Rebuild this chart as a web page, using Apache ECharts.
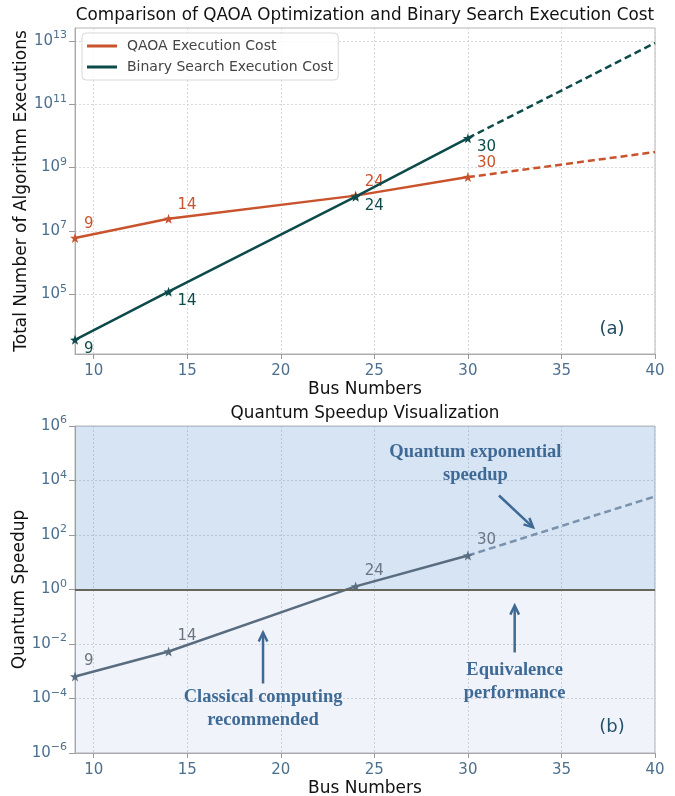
<!DOCTYPE html>
<html>
<head>
<meta charset="utf-8">
<title>QAOA vs Binary Search</title>
<script src="https://cdn.jsdelivr.net/npm/echarts@6/dist/echarts.min.js"></script>
<style>
  html, body { margin: 0; padding: 0; background: #fff; }
  #main { width: 675px; height: 796px; }
</style>
</head>
<body>
<div id="main"></div>
<script>
// measured points (bus count -> executions)
var busNumbers = [9, 14, 24, 30];
var qaoaCost = [6.0e6, 2.4e7, 1.3e8, 5.0e8];
var binaryCost = [3.6e3, 1.2e5, 1.2e8, 8.5e9];
// extrapolated part (dashed)
var projBus = [30, 40];
var qaoaProj = [5.0e8, 3.1e9];
var binaryProj = [8.5e9, 8.7e12];
// speedup = binary / qaoa
var speedup = [6.4e-4, 5.3e-3, 1.3, 17.6];
var speedupProj = [17.6, 2.6e3];

var xTicks = [10, 15, 20, 25, 30, 35, 40];
var topYTicks = [5, 7, 9, 11, 13];
var bottomYTicks = [-6, -4, -2, 0, 2, 4, 6];

var ORANGE = '#c9532d';
var TEAL = '#0d4a4a';
var GREYBLUE = '#5a6d80';
var NOTE = '#3f6a96';
var TICK = '#4d6f8e';

var STAR = 'path://M0,-10 L2.35,-3.24 L9.51,-3.09 L3.8,1.24 L5.88,8.09 L0,4 L-5.88,8.09 L-3.8,1.24 L-9.51,-3.09 L-2.35,-3.24 Z';

function pairs(xs, ys) {
    return xs.map(function (x, i) { return [x, Math.log10(ys[i])]; });
}

function xAxisFor(idx) {
    return {
        type: 'value', gridIndex: idx, min: 9, max: 40,
        name: 'Bus Numbers', nameLocation: 'middle', nameGap: 27,
        nameTextStyle: { fontSize: 17, color: '#111', fontFamily: 'DejaVu Sans' },
        axisLine: { onZero: false, lineStyle: { color: '#aaa' } },
        axisTick: { customValues: xTicks, length: 5, lineStyle: { color: '#999' } },
        axisLabel: { customValues: xTicks, margin: 10, color: TICK, fontSize: 15, fontFamily: 'DejaVu Sans' },
        splitLine: { show: true, lineStyle: { color: '#cfcfcf', type: [2, 2], width: 0.8 } }
    };
}
function yAxisFor(idx, name, min, max, ticks, gap) {
    return {
        type: 'value', gridIndex: idx, min: min, max: max,
        name: name, nameLocation: 'middle', nameGap: gap, nameMoveOverlap: false,
        nameTextStyle: { fontSize: 17, color: '#111', fontFamily: 'DejaVu Sans' },
        axisLine: { show: true, lineStyle: { color: '#aaa' } },
        axisTick: { show: true, customValues: ticks, length: 6, lineStyle: { color: '#999' } },
        axisLabel: {
            customValues: ticks, margin: 8, color: TICK, fontFamily: 'DejaVu Sans',
            formatter: function (v) {
                var e = String(Math.round(v)).replace('-', '\u2212');
                return '{b|10}{e|' + e + '}';
            },
            rich: {
                b: { fontSize: 15, color: TICK, fontFamily: 'DejaVu Sans' },
                e: { fontSize: 11, color: TICK, fontFamily: 'DejaVu Sans', padding: [0, 0, 11, 0] }
            }
        },
        splitLine: { show: true, lineStyle: { color: '#cfcfcf', type: [2, 2], width: 0.8 } }
    };
}
function pointLabel(color, dy) {
    return {
        show: true, position: 'right', distance: 4, offset: [0, dy],
        color: color, fontSize: 15, fontFamily: 'DejaVu Sans',
        formatter: function (p) { return p.data[0]; }
    };
}

var chart = echarts.init(document.getElementById('main'));

var option = {
    backgroundColor: '#fff',
    animation: false,
    legend: {
        data: ['QAOA Execution Cost', 'Binary Search Execution Cost'],
        orient: 'vertical', left: 82, top: 33,
        padding: [6, 5, 6, 5], itemGap: 7,
        itemWidth: 30, itemHeight: 3, icon: 'rect',
        backgroundColor: 'rgba(255,255,255,0.85)', borderColor: '#d8d8d8', borderWidth: 1, borderRadius: 4,
        textStyle: { fontSize: 14, color: '#444', fontFamily: 'DejaVu Sans', padding: [0, 0, 0, 5] }
    },
    grid: [
        { left: 75, right: 20, top: 28, height: 326, show: true, borderColor: '#b5b5b5', borderWidth: 1,
          containLabel: false, outerBoundsMode: 'none' },
        { left: 75, right: 20, top: 426, height: 327, show: true, borderColor: '#b5b5b5', borderWidth: 1,
          containLabel: false, outerBoundsMode: 'none' }
    ],
    xAxis: [xAxisFor(0), xAxisFor(1)],
    yAxis: [
        yAxisFor(0, 'Total Number of Algorithm Executions', 3.11, 13.41, topYTicks, 45),
        yAxisFor(1, 'Quantum Speedup', -6, 6, bottomYTicks, 47)
    ],
    series: [
        {
            name: 'QAOA Execution Cost', type: 'line', xAxisIndex: 0, yAxisIndex: 0,
            data: pairs(busNumbers, qaoaCost),
            lineStyle: { color: ORANGE, width: 2.5 }, itemStyle: { color: ORANGE },
            symbol: STAR, symbolSize: 10, label: pointLabel(ORANGE, -14), z: 3
        },
        {
            name: 'QAOA projection', type: 'line', xAxisIndex: 0, yAxisIndex: 0,
            data: pairs(projBus, qaoaProj), showSymbol: false,
            lineStyle: { color: ORANGE, width: 2.5, type: [7, 4] }, itemStyle: { color: ORANGE }
        },
        {
            name: 'Binary Search Execution Cost', type: 'line', xAxisIndex: 0, yAxisIndex: 0,
            data: pairs(busNumbers, binaryCost),
            lineStyle: { color: TEAL, width: 2.5 }, itemStyle: { color: TEAL },
            symbol: STAR, symbolSize: 10, label: pointLabel(TEAL, 9), z: 4
        },
        {
            name: 'Binary projection', type: 'line', xAxisIndex: 0, yAxisIndex: 0,
            data: pairs(projBus, binaryProj), showSymbol: false,
            lineStyle: { color: TEAL, width: 2.5, type: [7, 4] }, itemStyle: { color: TEAL }
        },
        {
            name: 'Quantum Speedup', type: 'line', xAxisIndex: 1, yAxisIndex: 1,
            data: pairs(busNumbers, speedup),
            lineStyle: { color: GREYBLUE, width: 2.5 }, itemStyle: { color: GREYBLUE },
            symbol: STAR, symbolSize: 10, label: pointLabel('#6b7480', -15), z: 4,
            markArea: {
                silent: true,
                data: [
                    [{ coord: [9, 0], itemStyle: { color: 'rgba(50,120,195,0.2)' } }, { coord: [40, 6] }],
                    [{ coord: [9, -6], itemStyle: { color: 'rgba(105,145,205,0.1)' } }, { coord: [40, 0] }]
                ]
            },
            markLine: {
                silent: true, symbol: 'none', label: { show: false },
                lineStyle: { color: '#66665a', width: 2, type: 'solid' },
                data: [{ yAxis: 0 }]
            }
        },
        {
            name: 'Speedup projection', type: 'line', xAxisIndex: 1, yAxisIndex: 1,
            data: pairs(projBus, speedupProj), showSymbol: false,
            lineStyle: { color: '#7a92ad', width: 2.5, type: [7, 4] }, itemStyle: { color: '#7a92ad' }
        }
    ]
};
chart.setOption(option);

// annotations for the speedup panel, in data coords (x, log10 y)
var notes = [
    { text: 'Quantum exponential\nspeedup', at: [30.4, 4.6], tail: [31.66, 3.45], tip: [33.48, 2.28] },
    { text: 'Classical computing\nrecommended', at: [19.05, -4.39], tail: [19.05, -3.45], tip: [19.05, -1.58] },
    { text: 'Equivalence\nperformance', at: [32.5, -3.39], tail: [32.5, -2.31], tip: [32.5, -0.59] }
];

var graphics = [
    { type: 'text', x: 365, y: 16, style: { text: 'Comparison of QAOA Optimization and Binary Search Execution Cost', font: '16.8px "DejaVu Sans"', fill: '#111', textAlign: 'center', textVerticalAlign: 'middle' } },
    { type: 'text', x: 365, y: 414, style: { text: 'Quantum Speedup Visualization', font: '16.8px "DejaVu Sans"', fill: '#111', textAlign: 'center', textVerticalAlign: 'middle' } },
    { type: 'text', x: 612, y: 329, style: { text: '(a)', font: '18px "DejaVu Sans"', fill: '#1d4a5e', textAlign: 'center', textVerticalAlign: 'middle' } },
    { type: 'text', x: 612, y: 727, style: { text: '(b)', font: '18px "DejaVu Sans"', fill: '#1d4a5e', textAlign: 'center', textVerticalAlign: 'middle' } }
];

var toPx = function (p) { return chart.convertToPixel({ xAxisIndex: 1, yAxisIndex: 1 }, p); };
notes.forEach(function (n) {
    var c = toPx(n.at), a = toPx(n.tail), b = toPx(n.tip);
    graphics.push({
        type: 'text', x: c[0], y: c[1], z: 10,
        style: { text: n.text, font: 'bold 18.5px "Liberation Serif"', fill: NOTE, textAlign: 'center', textVerticalAlign: 'middle', lineHeight: 23 }
    });
    var ang = Math.atan2(b[1] - a[1], b[0] - a[0]);
    var h = 10, w = 0.45;
    graphics.push({
        type: 'polyline', z: 10,
        shape: { points: [a, b] },
        style: { stroke: NOTE, lineWidth: 2.5, fill: null }
    });
    graphics.push({
        type: 'polyline', z: 10,
        shape: { points: [
            [b[0] - h * Math.cos(ang - w), b[1] - h * Math.sin(ang - w)],
            b,
            [b[0] - h * Math.cos(ang + w), b[1] - h * Math.sin(ang + w)]
        ] },
        style: { stroke: NOTE, lineWidth: 2.5, fill: null, lineJoin: 'miter' }
    });
});
chart.setOption({ graphic: graphics });
</script>
</body>
</html>
